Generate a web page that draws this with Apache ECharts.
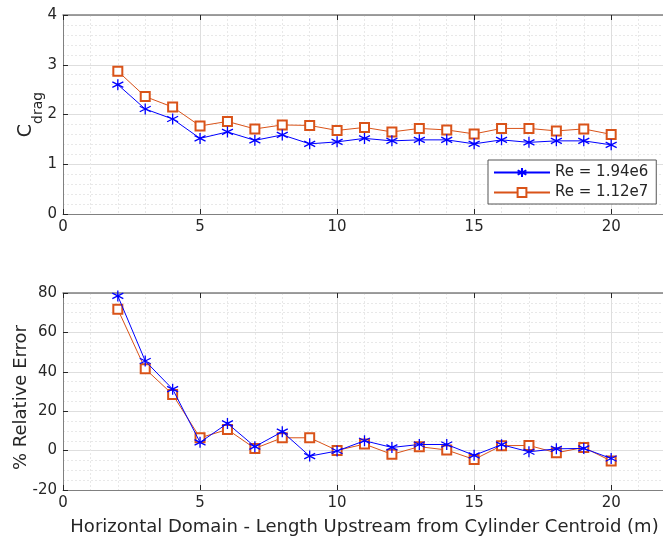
<!DOCTYPE html>
<html>
<head>
<meta charset="utf-8">
<script src="https://cdn.jsdelivr.net/npm/echarts@6/dist/echarts.min.js"></script>
<style>
  html, body { margin: 0; padding: 0; background: #fff; }
  #chart { width: 663px; height: 540px; }
</style>
</head>
<body>
<div id="chart"></div>
<script>
// domain length upstream (m)
const domainLength = [2, 3, 4, 5, 6, 7, 8, 9, 10, 11, 12, 13, 14, 15, 16, 17, 18, 19, 20];
// drag coefficient
const cdragLow = [2.60, 2.11, 1.91, 1.52, 1.65, 1.48, 1.59, 1.41, 1.45, 1.52, 1.47, 1.49, 1.49, 1.41, 1.49, 1.44, 1.47, 1.47, 1.39];
const cdragHigh = [2.87, 2.36, 2.15, 1.77, 1.86, 1.71, 1.79, 1.78, 1.68, 1.74, 1.65, 1.72, 1.69, 1.61, 1.72, 1.72, 1.67, 1.71, 1.60];
// % relative error
const errLow = [78.5, 45.5, 31.2, 4.2, 13.8, 2.0, 9.6, -2.8, -0.2, 5.0, 1.6, 3.1, 3.1, -2.4, 3.0, -0.6, 0.9, 1.1, -4.0];
const errHigh = [71.7, 41.5, 28.5, 6.5, 10.7, 1.1, 6.5, 6.5, 0.1, 3.3, -1.9, 2.0, 0.3, -4.5, 2.5, 2.6, -1.1, 1.6, -5.3];
const seriesNames = ['Re = 1.94e6', 'Re = 1.12e7'];

const textColor = '#262626';
const blue = '#0000ff';
const orange = '#d95319';
const star = 'path://M0,-5L0,5M-4.3,-2.5L4.3,2.5M-4.3,2.5L4.3,-2.5';

const pairs = (ys) => domainLength.map((x, i) => [x, ys[i]]);

function xAxisCfg(gridIndex, showLabel) {
  return {
    type: 'value', gridIndex: gridIndex, min: 0, max: 22, interval: 5,
    axisLine: { show: true, onZero: false, lineStyle: { color: '#808080', width: 1 } },
    axisTick: { show: true, inside: true, length: 5, lineStyle: { color: textColor } },
    axisLabel: { show: showLabel, color: textColor, fontSize: 15, fontFamily: 'DejaVu Sans', margin: 6,
      showMaxLabel: false },
    splitLine: { show: true, lineStyle: { color: '#dedede', width: 1 } },
    minorTick: { show: false, splitNumber: 5 },
    minorSplitLine: { show: true, lineStyle: { color: '#e8e8e8', type: [2, 2] } },
  };
}

function yAxisCfg(gridIndex, min, max, interval, minorSplit, name, gap, extra) {
  return {
    type: 'value', gridIndex: gridIndex, min: min, max: max, interval: interval,
    name: name, nameLocation: 'middle', nameRotate: 90, nameGap: gap, nameMoveOverlap: false,
    nameTextStyle: Object.assign({ color: textColor, fontSize: 18, fontFamily: 'DejaVu Sans' }, extra || {}),
    axisLine: { show: true, lineStyle: { color: '#808080', width: 1 } },
    axisTick: { show: true, inside: true, length: 5, lineStyle: { color: textColor } },
    axisLabel: { color: textColor, fontSize: 15, fontFamily: 'DejaVu Sans', margin: 6 },
    splitLine: { show: true, lineStyle: { color: '#dedede', width: 1 } },
    minorTick: { show: false, splitNumber: minorSplit },
    minorSplitLine: { show: true, lineStyle: { color: '#e8e8e8', type: [2, 2] } },
  };
}

function topAxis(gridIndex) {
  return {
    type: 'value', gridIndex: gridIndex, position: 'top', min: 0, max: 22, interval: 5,
    axisLine: { show: true, onZero: false, lineStyle: { color: '#808080', width: 1.5 } },
    axisTick: { show: true, inside: true, length: 5, lineStyle: { color: textColor } },
    axisLabel: { show: false }, splitLine: { show: false },
  };
}

const chart = echarts.init(document.getElementById('chart'), null, { renderer: 'canvas' });

const lowStyle = {
  type: 'line', symbol: star, symbolSize: 11,
  lineStyle: { color: blue, width: 1 },
  itemStyle: { color: blue, borderColor: blue, borderWidth: 1.3 },
  z: 3,
};
const highStyle = {
  type: 'line', symbol: 'emptyRect', symbolSize: 9,
  lineStyle: { color: orange, width: 1 },
  itemStyle: { color: orange, borderColor: orange, borderWidth: 0.8 },
  z: 2,
};

chart.setOption({
  backgroundColor: '#fff',
  animation: false,
  grid: [
    { left: 63, top: 15, width: 603, height: 199, outerBoundsMode: 'none' },
    { left: 63, top: 293, width: 603, height: 197, outerBoundsMode: 'none' },
  ],
  legend: {
    data: seriesNames,
    orient: 'vertical', left: 488, top: 160,
    padding: [5, 8, 4, 5], itemGap: 5, itemWidth: 56, itemHeight: 11,
    backgroundColor: '#fff', borderColor: '#555', borderWidth: 1, borderRadius: 0,
    textStyle: { color: textColor, fontSize: 15, fontFamily: 'DejaVu Sans' },
  },
  xAxis: [
    xAxisCfg(0, true),
    Object.assign(xAxisCfg(1, true), {
      name: 'Horizontal Domain - Length Upstream from Cylinder Centroid (m)',
      nameLocation: 'middle', nameGap: 28, nameMoveOverlap: false,
      nameTextStyle: { color: textColor, fontSize: 18, fontFamily: 'DejaVu Sans' },
    }),
    topAxis(0),
    topAxis(1),
  ],
  yAxis: [
    yAxisCfg(0, 0, 4, 1, 5, '{a|C}{b|drag}', 27, {
      rich: {
        a: { fontSize: 19, color: textColor, fontFamily: 'DejaVu Sans' },
        b: { fontSize: 14, color: textColor, fontFamily: 'DejaVu Sans', verticalAlign: 'bottom', padding: [0, 0, -9, 0] },
      },
    }),
    yAxisCfg(1, -20, 80, 20, 4, '% Relative Error', 33, { padding: [0, 12, 0, 0] }),
  ],
  series: [
    Object.assign({ name: seriesNames[0], xAxisIndex: 0, yAxisIndex: 0, data: pairs(cdragLow) }, lowStyle),
    Object.assign({ name: seriesNames[1], xAxisIndex: 0, yAxisIndex: 0, data: pairs(cdragHigh) }, highStyle),
    Object.assign({ name: seriesNames[0], xAxisIndex: 1, yAxisIndex: 1, data: pairs(errLow) }, lowStyle),
    Object.assign({ name: seriesNames[1], xAxisIndex: 1, yAxisIndex: 1, data: pairs(errHigh) }, highStyle),
  ],
});
</script>
</body>
</html>
